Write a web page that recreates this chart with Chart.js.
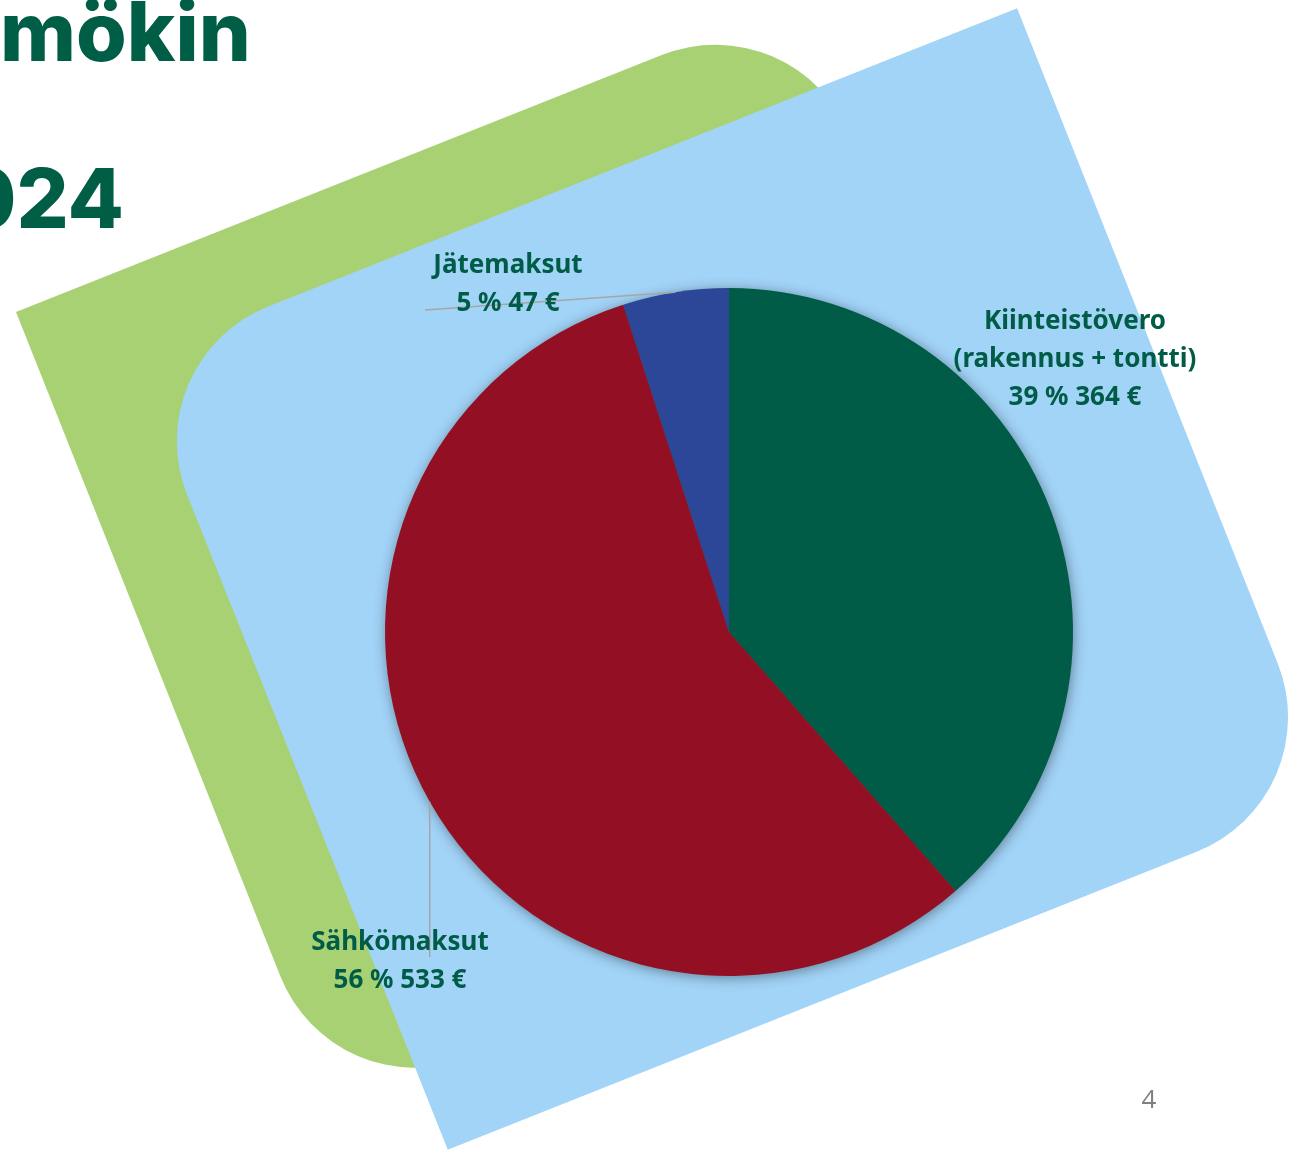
<!DOCTYPE html>
<html>
<head>
<meta charset="utf-8">
<script src="https://cdn.jsdelivr.net/npm/chart.js@4"></script>
<style>
  html, body { margin: 0; padding: 0; background: #ffffff; overflow: hidden; }
  #wrap { width: 1304px; height: 1151px; position: relative; }
</style>
</head>
<body>
<div id="wrap"><canvas id="pie" width="1304" height="1151"></canvas></div>
<script>
// data
const names = [['Kiinteistövero', '(rakennus + tontti)'], ['Sähkömaksut'], ['Jätemaksut']];
const euros = [364, 533, 47];
const percents = [39, 56, 5];
const sliceColors = ['#005C46', '#931024', '#2C4798'];

const textGreen = '#005C46';

// label placement (first line centre) and leader start, per slice
const labelPos = [
    { x: 1075, y: 322, leader: null },
    { x: 400, y: 943, leader: 'down' },
    { x: 508, y: 266, leader: { x: 425, y: 310 } },
];

// rotated rectangle with two opposite rounded corners
function diagRect(ctx, x, y, w, h, r, angle, roundTL, color) {
    ctx.save();
    ctx.translate(x, y);
    ctx.rotate(angle * Math.PI / 180);
    ctx.beginPath();
    if (roundTL) {
        ctx.moveTo(r, 0);
        ctx.lineTo(w, 0);
        ctx.lineTo(w, h - r);
        ctx.arcTo(w, h, w - r, h, r);
        ctx.lineTo(0, h);
        ctx.lineTo(0, r);
        ctx.arcTo(0, 0, r, 0, r);
    } else {
        ctx.moveTo(0, 0);
        ctx.lineTo(w - r, 0);
        ctx.arcTo(w, 0, w, r, r);
        ctx.lineTo(w, h);
        ctx.lineTo(r, h);
        ctx.arcTo(0, h, 0, h - r, r);
        ctx.lineTo(0, 0);
    }
    ctx.closePath();
    ctx.fillStyle = color;
    ctx.fill();
    ctx.restore();
}

const slideBack = {
    id: 'slideBack',
    beforeDraw(chart) {
        const ctx = chart.ctx;
        ctx.save();
        ctx.fillStyle = '#ffffff';
        ctx.fillRect(0, 0, chart.width, chart.height);
        diagRect(ctx, 16, 312, 840, 860, 145, -21.7, false, '#A8D174');
        diagRect(ctx, 133.5, 360, 951, 850, 145, -21.7, true, '#A2D4F8');

        // title fragments cut by the slide edge
        ctx.fillStyle = '#005E47';
        ctx.font = '800 82px Inter';
        ctx.textAlign = 'left';
        ctx.textBaseline = 'alphabetic';
        ctx.fillText('mökin', 0, 61);
        ctx.textAlign = 'right';
        ctx.fillText('2024', 124, 228);

        ctx.fillStyle = '#7F7F7F';
        ctx.font = '26px "Open Sans"';
        ctx.textAlign = 'center';
        ctx.fillText('4', 1149, 1108);
        ctx.restore();
    },
    beforeDatasetsDraw(chart) {
        const arc = chart.getDatasetMeta(0).data[0];
        const ctx = chart.ctx;
        ctx.save();
        ctx.shadowColor = 'rgba(0,0,0,0.45)';
        ctx.shadowBlur = 14;
        ctx.shadowOffsetX = 1;
        ctx.shadowOffsetY = 2;
        ctx.fillStyle = '#555555';
        ctx.beginPath();
        ctx.arc(arc.x, arc.y, arc.outerRadius - 1, 0, Math.PI * 2);
        ctx.fill();
        ctx.restore();
    },
};

const sliceLabels = {
    id: 'sliceLabels',
    afterDatasetsDraw(chart) {
        const ctx = chart.ctx;
        const meta = chart.getDatasetMeta(0);
        ctx.save();
        meta.data.forEach((arc, i) => {
            const pos = labelPos[i];
            const mid = (arc.startAngle + arc.endAngle) / 2;
            const ex = arc.x + Math.cos(mid) * arc.outerRadius;
            const ey = arc.y + Math.sin(mid) * arc.outerRadius;
            const lines = names[i].concat([percents[i] + ' % ' + euros[i] + ' €']);

            if (pos.leader) {
                ctx.strokeStyle = '#A6A6A6';
                ctx.lineWidth = 1.5;
                ctx.beginPath();
                if (pos.leader === 'down') {
                    ctx.moveTo(ex, ey);
                    ctx.lineTo(ex, pos.y + 14);
                } else {
                    ctx.moveTo(pos.leader.x, pos.leader.y);
                    ctx.lineTo(ex, ey);
                }
                ctx.stroke();
            }

            ctx.fillStyle = textGreen;
            ctx.font = 'bold 26px "Noto Sans"';
            ctx.textAlign = 'center';
            ctx.textBaseline = 'middle';
            lines.forEach((t, k) => ctx.fillText(t, pos.x, pos.y + k * 38));
        });
        ctx.restore();
    },
};

const ctx = document.getElementById('pie').getContext('2d');

const config = {
    type: 'pie',
    data: {
        labels: names.map(n => n.join(' ')),
        datasets: [
            {
                data: euros,
                backgroundColor: sliceColors,
                borderWidth: 0,
            },
        ],
    },
    options: {
        responsive: false,
        animation: false,
        rotation: 0,
        layout: { padding: { left: 385, right: 231, top: 288, bottom: 175 } },
        plugins: {
            legend: { display: false },
            tooltip: { enabled: false },
        },
    },
    plugins: [slideBack, sliceLabels],
};

const myChart = new Chart(ctx, config);
</script>
</body>
</html>
